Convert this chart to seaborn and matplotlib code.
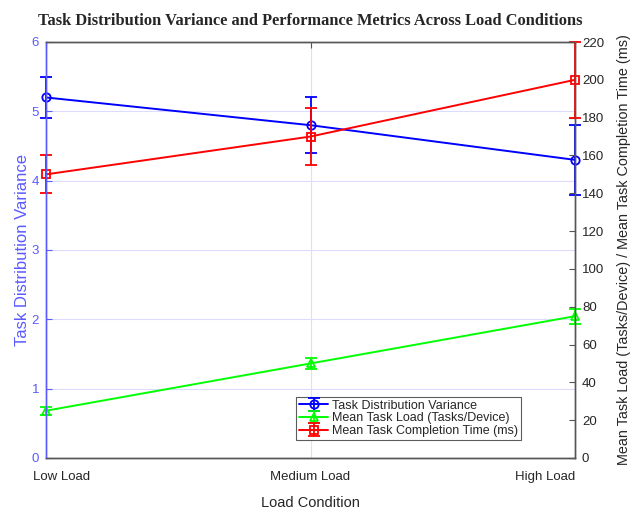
import matplotlib
matplotlib.use("Agg")
import matplotlib.pyplot as plt
import seaborn as sns
import pandas as pd

# Data
conditions = ["Low Load", "Medium Load", "High Load"]
variance = [5.2, 4.8, 4.3]
variance_err = [0.3, 0.4, 0.5]
task_load = [25, 50, 75]
task_load_err = [2, 3, 4]
completion = [150, 170, 200]
completion_err = [10, 15, 20]

x = [1, 2, 3]
df = pd.DataFrame({
    "x": x,
    "variance": variance,
    "task_load": task_load,
    "completion": completion,
})

sns.set_style("white")
plt.rcParams["font.family"] = ["Liberation Sans", "DejaVu Sans"]

fig = plt.figure(figsize=(6.37, 5.09), dpi=100)
ax1 = fig.add_axes([46 / 637, 1 - 458 / 509, (575 - 46) / 637, (458 - 42) / 509])
ax2 = ax1.twinx()

blue = "#0000ff"
green = "#00ff00"
red = "#ff0000"
left_col = "#5a5aff"
dark = "#262626"
spine_col = "#555555"


def draw_series(ax, col, color, marker, msize, err):
    sns.lineplot(data=df, x="x", y=col, ax=ax, color=color, linewidth=1.4,
                 marker=marker, markersize=msize, markerfacecolor="none",
                 markeredgecolor=color, markeredgewidth=1.3, legend=False)
    line = ax.lines[-1]
    line.set_clip_on(False)
    eb = ax.errorbar(x, df[col], yerr=err, fmt="none", ecolor=color,
                     elinewidth=1.3, capsize=4, capthick=1.3, clip_on=False)
    return line, eb


# Left axis: task distribution variance
l_var, eb_var = draw_series(ax1, "variance", blue, "o", 6, variance_err)
# Right axis: task load and completion time
l_load, eb_load = draw_series(ax2, "task_load", green, "^", 6, task_load_err)
l_comp, eb_comp = draw_series(ax2, "completion", red, "s", 5.5, completion_err)

ax1.set_xlim(1, 3)
ax1.set_ylim(0, 6)
ax2.set_ylim(0, 220)
ax1.set_xticks(x)
ax1.set_xticklabels([])
ax1.set_yticks(range(0, 7))
ax2.set_yticks(range(0, 221, 20))

# Category labels, with the outer ones pulled inside the plot width
xform = ax1.get_xaxis_transform()
label_style = [("center", 15.5), ("center", 0), ("right", 0)]
for xi, name, (ha, dx) in zip(x, conditions, label_style):
    ax1.annotate(name, xy=(xi, 0), xycoords=xform, xytext=(dx * 0.72, -13.5),
                 textcoords="offset points", ha=ha, va="center",
                 fontsize=9.5, color=dark, annotation_clip=False)

# Grid
ax1.grid(True, axis="y", color="#dcdcff", linewidth=0.8)
ax1.grid(True, axis="x", color="#e2e2e2", linewidth=0.8)
ax1.set_axisbelow(True)

# Ticks and spines
ax1.tick_params(axis="y", direction="in", colors=left_col, labelcolor=left_col,
                labelsize=9.5, length=4, pad=5)
ax1.tick_params(axis="x", direction="in", colors=spine_col, labelcolor=dark,
                labelsize=9.5, length=4, pad=9, top=True)
ax2.tick_params(axis="y", direction="in", colors=spine_col, labelcolor=dark,
                labelsize=9.5, length=4, pad=5)
for ax in (ax1, ax2):
    ax.spines["left"].set_color(left_col)
    ax.spines["right"].set_color(spine_col)
    ax.spines["top"].set_color(spine_col)
    ax.spines["bottom"].set_color(spine_col)
    for s in ax.spines.values():
        s.set_linewidth(1.0)

ax1.set_xlabel("Load Condition", fontsize=10.5, color=dark)
ax1.xaxis.set_label_coords(0.5, -0.092)
ax1.set_ylabel("Task Distribution Variance", fontsize=12, color=left_col, labelpad=1)
ax2.set_ylabel("Mean Task Load (Tasks/Device) / Mean Task Completion Time (ms)",
               fontsize=10.4, color=dark, labelpad=9)

ax1.set_title("Task Distribution Variance and Performance Metrics Across Load Conditions",
              fontsize=11.8, fontweight="bold", family="Liberation Serif", pad=12)

# Legend combining line/marker and error bar handles
leg = ax2.legend([(l_var, eb_var), (l_load, eb_load), (l_comp, eb_comp)],
                 ["Task Distribution Variance", "Mean Task Load (Tasks/Device)",
                  "Mean Task Completion Time (ms)"],
                 loc="lower left", bbox_to_anchor=((296 - 46) / 529, (458 - 440) / 416),
                 fontsize=9, frameon=True, fancybox=False, borderpad=0.25,
                 labelspacing=0.05, handlelength=2.3, handletextpad=0.3,
                 borderaxespad=0)
leg.get_frame().set_edgecolor("#333333")
leg.get_frame().set_linewidth(0.8)

fig.savefig("out.png", dpi=100, facecolor="white")
